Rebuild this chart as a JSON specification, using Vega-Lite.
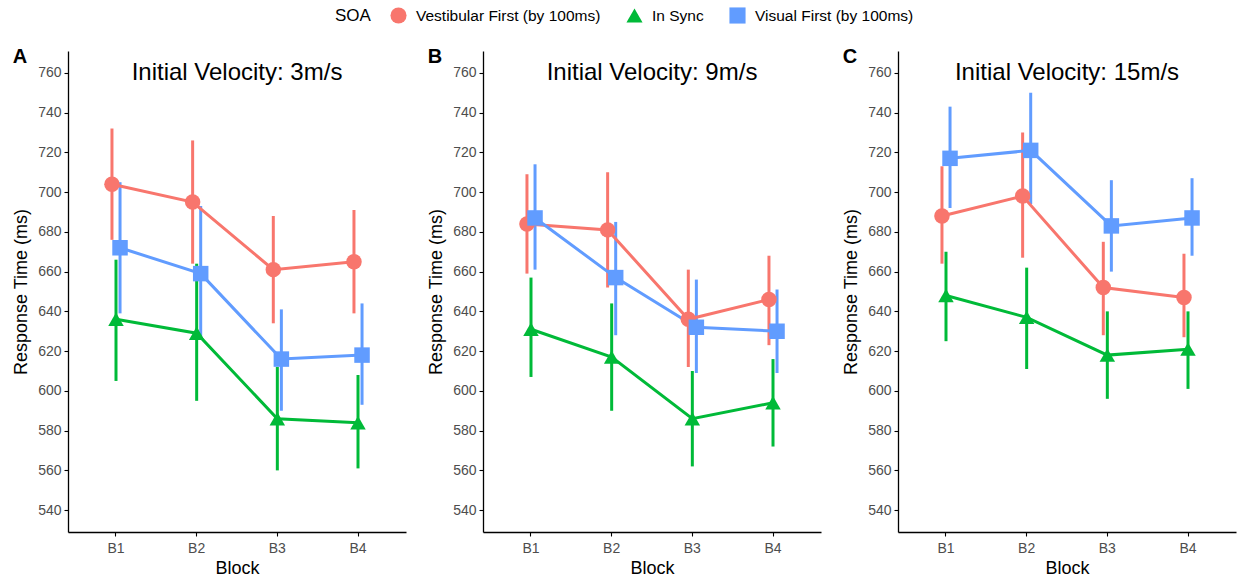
{
  "$schema": "https://vega.github.io/schema/vega-lite/v6.json",
  "background": "white",
  "padding": {"left": 12, "right": 1, "top": 7, "bottom": 0},
  "data": {"values": [
    {"Panel": "A", "Block": "B1", "SOA": "Vestibular First (by 100ms)", "RT": 704, "lo": 676, "hi": 732},
    {"Panel": "A", "Block": "B2", "SOA": "Vestibular First (by 100ms)", "RT": 695, "lo": 664, "hi": 726},
    {"Panel": "A", "Block": "B3", "SOA": "Vestibular First (by 100ms)", "RT": 661, "lo": 634, "hi": 688},
    {"Panel": "A", "Block": "B4", "SOA": "Vestibular First (by 100ms)", "RT": 665, "lo": 639, "hi": 691},
    {"Panel": "A", "Block": "B1", "SOA": "In Sync", "RT": 636, "lo": 605, "hi": 666},
    {"Panel": "A", "Block": "B2", "SOA": "In Sync", "RT": 629, "lo": 595, "hi": 664},
    {"Panel": "A", "Block": "B3", "SOA": "In Sync", "RT": 586, "lo": 560, "hi": 612},
    {"Panel": "A", "Block": "B4", "SOA": "In Sync", "RT": 584, "lo": 561, "hi": 608},
    {"Panel": "A", "Block": "B1", "SOA": "Visual First (by 100ms)", "RT": 672, "lo": 639, "hi": 705},
    {"Panel": "A", "Block": "B2", "SOA": "Visual First (by 100ms)", "RT": 659, "lo": 626, "hi": 693},
    {"Panel": "A", "Block": "B3", "SOA": "Visual First (by 100ms)", "RT": 616, "lo": 590, "hi": 641},
    {"Panel": "A", "Block": "B4", "SOA": "Visual First (by 100ms)", "RT": 618, "lo": 593, "hi": 644},
    {"Panel": "B", "Block": "B1", "SOA": "Vestibular First (by 100ms)", "RT": 684, "lo": 659, "hi": 709},
    {"Panel": "B", "Block": "B2", "SOA": "Vestibular First (by 100ms)", "RT": 681, "lo": 652, "hi": 710},
    {"Panel": "B", "Block": "B3", "SOA": "Vestibular First (by 100ms)", "RT": 636, "lo": 612, "hi": 661},
    {"Panel": "B", "Block": "B4", "SOA": "Vestibular First (by 100ms)", "RT": 646, "lo": 623, "hi": 668},
    {"Panel": "B", "Block": "B1", "SOA": "In Sync", "RT": 631, "lo": 607, "hi": 657},
    {"Panel": "B", "Block": "B2", "SOA": "In Sync", "RT": 617, "lo": 590, "hi": 644},
    {"Panel": "B", "Block": "B3", "SOA": "In Sync", "RT": 586, "lo": 562, "hi": 610},
    {"Panel": "B", "Block": "B4", "SOA": "In Sync", "RT": 594, "lo": 572, "hi": 616},
    {"Panel": "B", "Block": "B1", "SOA": "Visual First (by 100ms)", "RT": 687, "lo": 661, "hi": 714},
    {"Panel": "B", "Block": "B2", "SOA": "Visual First (by 100ms)", "RT": 657, "lo": 628, "hi": 685},
    {"Panel": "B", "Block": "B3", "SOA": "Visual First (by 100ms)", "RT": 632, "lo": 609, "hi": 656},
    {"Panel": "B", "Block": "B4", "SOA": "Visual First (by 100ms)", "RT": 630, "lo": 609, "hi": 651},
    {"Panel": "C", "Block": "B1", "SOA": "Vestibular First (by 100ms)", "RT": 688, "lo": 664, "hi": 713},
    {"Panel": "C", "Block": "B2", "SOA": "Vestibular First (by 100ms)", "RT": 698, "lo": 667, "hi": 730},
    {"Panel": "C", "Block": "B3", "SOA": "Vestibular First (by 100ms)", "RT": 652, "lo": 628, "hi": 675},
    {"Panel": "C", "Block": "B4", "SOA": "Vestibular First (by 100ms)", "RT": 647, "lo": 627, "hi": 669},
    {"Panel": "C", "Block": "B1", "SOA": "In Sync", "RT": 648, "lo": 625, "hi": 670},
    {"Panel": "C", "Block": "B2", "SOA": "In Sync", "RT": 637, "lo": 611, "hi": 662},
    {"Panel": "C", "Block": "B3", "SOA": "In Sync", "RT": 618, "lo": 596, "hi": 640},
    {"Panel": "C", "Block": "B4", "SOA": "In Sync", "RT": 621, "lo": 601, "hi": 640},
    {"Panel": "C", "Block": "B1", "SOA": "Visual First (by 100ms)", "RT": 717, "lo": 692, "hi": 743},
    {"Panel": "C", "Block": "B2", "SOA": "Visual First (by 100ms)", "RT": 721, "lo": 694, "hi": 750},
    {"Panel": "C", "Block": "B3", "SOA": "Visual First (by 100ms)", "RT": 683, "lo": 660, "hi": 706},
    {"Panel": "C", "Block": "B4", "SOA": "Visual First (by 100ms)", "RT": 687, "lo": 668, "hi": 707}
  ]},
  "hconcat": [
    {
      "title": {"text": "A", "fontSize": 20, "fontWeight": "bold", "anchor": "start", "frame": "bounds", "offset": -16, "color": "black"},
      "vconcat": [{
        "title": {"text": "Initial Velocity: 3m/s", "fontSize": 24, "fontWeight": "normal", "anchor": "middle", "frame": "group", "offset": -34, "color": "black"},
        "width": 338, "height": 481,
        "transform": [{"filter": "datum.Panel === 'A'"}],
        "encoding": {
          "x": {"field": "Block", "type": "nominal", "title": "Block", "scale": {"type": "band", "paddingInner": 0.85, "paddingOuter": 0.52}, "axis": {"labelAngle": 0}},
          "xOffset": {"field": "SOA", "type": "nominal", "scale": {"domain": ["Vestibular First (by 100ms)", "In Sync", "Visual First (by 100ms)"], "paddingInner": 0, "paddingOuter": 0}},
          "color": {"field": "SOA", "type": "nominal", "title": "SOA", "scale": {"domain": ["Vestibular First (by 100ms)", "In Sync", "Visual First (by 100ms)"], "range": ["#F8766D", "#00BA38", "#619CFF"]}}
        },
        "layer": [
          {"mark": {"type": "rule", "strokeWidth": 3}, "encoding": {"y": {"field": "lo", "type": "quantitative", "scale": {"domain": [529, 771], "nice": false, "zero": false}, "axis": {"values": [540, 560, 580, 600, 620, 640, 660, 680, 700, 720, 740, 760]}, "title": "Response Time (ms)"}, "y2": {"field": "hi"}}},
          {"mark": {"type": "line", "strokeWidth": 3}, "encoding": {"y": {"field": "RT", "type": "quantitative"}}},
          {"mark": {"type": "point", "filled": true, "opacity": 1}, "encoding": {"y": {"field": "RT", "type": "quantitative"}, "shape": {"field": "SOA", "type": "nominal", "title": "SOA", "scale": {"domain": ["Vestibular First (by 100ms)", "In Sync", "Visual First (by 100ms)"], "range": ["circle", "triangle-up", "square"]}}, "size": {"value": 240}}}
        ]
      }]
    },
    {
      "title": {"text": "B", "fontSize": 20, "fontWeight": "bold", "anchor": "start", "frame": "bounds", "offset": -16, "color": "black"},
      "vconcat": [{
        "title": {"text": "Initial Velocity: 9m/s", "fontSize": 24, "fontWeight": "normal", "anchor": "middle", "frame": "group", "offset": -34, "color": "black"},
        "width": 338, "height": 481,
        "transform": [{"filter": "datum.Panel === 'B'"}],
        "encoding": {
          "x": {"field": "Block", "type": "nominal", "title": "Block", "scale": {"type": "band", "paddingInner": 0.85, "paddingOuter": 0.52}, "axis": {"labelAngle": 0}},
          "xOffset": {"field": "SOA", "type": "nominal", "scale": {"domain": ["Vestibular First (by 100ms)", "In Sync", "Visual First (by 100ms)"], "paddingInner": 0, "paddingOuter": 0}},
          "color": {"field": "SOA", "type": "nominal", "title": "SOA", "scale": {"domain": ["Vestibular First (by 100ms)", "In Sync", "Visual First (by 100ms)"], "range": ["#F8766D", "#00BA38", "#619CFF"]}}
        },
        "layer": [
          {"mark": {"type": "rule", "strokeWidth": 3}, "encoding": {"y": {"field": "lo", "type": "quantitative", "scale": {"domain": [529, 771], "nice": false, "zero": false}, "axis": {"values": [540, 560, 580, 600, 620, 640, 660, 680, 700, 720, 740, 760]}, "title": "Response Time (ms)"}, "y2": {"field": "hi"}}},
          {"mark": {"type": "line", "strokeWidth": 3}, "encoding": {"y": {"field": "RT", "type": "quantitative"}}},
          {"mark": {"type": "point", "filled": true, "opacity": 1}, "encoding": {"y": {"field": "RT", "type": "quantitative"}, "shape": {"field": "SOA", "type": "nominal", "title": "SOA", "scale": {"domain": ["Vestibular First (by 100ms)", "In Sync", "Visual First (by 100ms)"], "range": ["circle", "triangle-up", "square"]}}, "size": {"value": 240}}}
        ]
      }]
    },
    {
      "title": {"text": "C", "fontSize": 20, "fontWeight": "bold", "anchor": "start", "frame": "bounds", "offset": -16, "color": "black"},
      "vconcat": [{
        "title": {"text": "Initial Velocity: 15m/s", "fontSize": 24, "fontWeight": "normal", "anchor": "middle", "frame": "group", "offset": -34, "color": "black"},
        "width": 338, "height": 481,
        "transform": [{"filter": "datum.Panel === 'C'"}],
        "encoding": {
          "x": {"field": "Block", "type": "nominal", "title": "Block", "scale": {"type": "band", "paddingInner": 0.85, "paddingOuter": 0.52}, "axis": {"labelAngle": 0}},
          "xOffset": {"field": "SOA", "type": "nominal", "scale": {"domain": ["Vestibular First (by 100ms)", "In Sync", "Visual First (by 100ms)"], "paddingInner": 0, "paddingOuter": 0}},
          "color": {"field": "SOA", "type": "nominal", "title": "SOA", "scale": {"domain": ["Vestibular First (by 100ms)", "In Sync", "Visual First (by 100ms)"], "range": ["#F8766D", "#00BA38", "#619CFF"]}}
        },
        "layer": [
          {"mark": {"type": "rule", "strokeWidth": 3}, "encoding": {"y": {"field": "lo", "type": "quantitative", "scale": {"domain": [529, 771], "nice": false, "zero": false}, "axis": {"values": [540, 560, 580, 600, 620, 640, 660, 680, 700, 720, 740, 760]}, "title": "Response Time (ms)"}, "y2": {"field": "hi"}}},
          {"mark": {"type": "line", "strokeWidth": 3}, "encoding": {"y": {"field": "RT", "type": "quantitative"}}},
          {"mark": {"type": "point", "filled": true, "opacity": 1}, "encoding": {"y": {"field": "RT", "type": "quantitative"}, "shape": {"field": "SOA", "type": "nominal", "title": "SOA", "scale": {"domain": ["Vestibular First (by 100ms)", "In Sync", "Visual First (by 100ms)"], "range": ["circle", "triangle-up", "square"]}}, "size": {"value": 240}}}
        ]
      }]
    }
  ],
  "spacing": 21,
  "resolve": {"scale": {"color": "shared", "shape": "shared"}, "legend": {"color": "shared", "shape": "shared"}},
  "config": {
    "font": "Liberation Sans",
    "view": {"stroke": null},
    "axis": {"grid": false, "domainColor": "black", "domainWidth": 1.3, "tickColor": "black", "tickWidth": 1.1, "tickSize": 4, "labelColor": "#4D4D4D", "labelFontSize": 14, "labelPadding": 3, "titleFontSize": 18, "titleFontWeight": "normal", "titleColor": "black"},
    "axisX": {"titlePadding": 4, "labelPadding": 5},
    "axisY": {"titlePadding": 7},
    "legend": {"orient": "top", "direction": "horizontal", "titleOrient": "left", "titleFontSize": 17, "titleFontWeight": "normal", "titleColor": "black", "titlePadding": 19, "labelFontSize": 15.5, "labelColor": "black", "labelLimit": 400, "symbolSize": 260, "symbolStrokeWidth": 0, "columnPadding": 25, "labelOffset": 9, "offset": 23, "layout": {"top": {"anchor": "middle"}}}
  }
}
